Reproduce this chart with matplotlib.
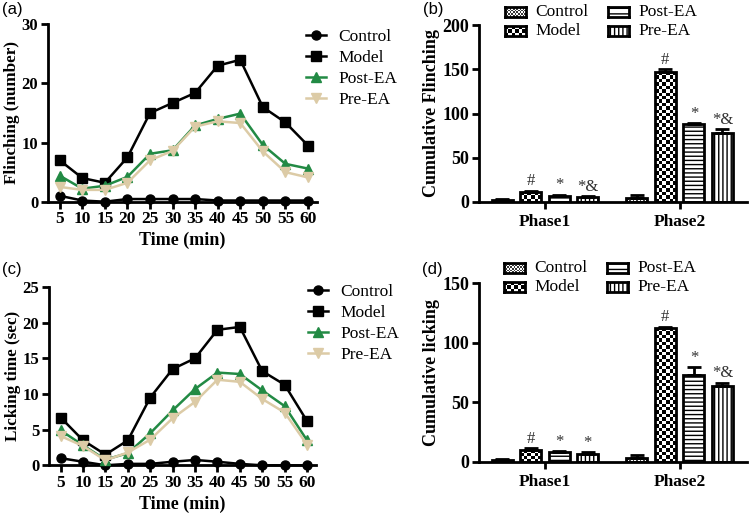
"""Formalin test: flinching and licking time courses plus cumulative phase bars."""

import numpy as np
import matplotlib
matplotlib.use('Agg')
import matplotlib.pyplot as plt
from matplotlib.colors import ListedColormap
from matplotlib.patches import Rectangle

FIG_W, FIG_H = 750, 516

groups = ['Control', 'Model', 'Post-EA', 'Pre-EA']
time_min = [5, 10, 15, 20, 25, 30, 35, 40, 45, 50, 55, 60]

flinch_control = [1.0, 0.2, 0.0, 0.45, 0.45, 0.45, 0.45, 0.2, 0.2, 0.2, 0.2, 0.2]
flinch_model = [7.0, 4.0, 3.2, 7.5, 15.0, 16.7, 18.4, 23.0, 24.0, 16.0, 13.4, 9.5]
flinch_post = [4.4, 2.2, 2.7, 4.2, 8.1, 8.7, 12.9, 14.0, 14.9, 9.6, 6.4, 5.6]
flinch_pre = [2.5, 2.0, 2.0, 3.2, 7.0, 8.6, 12.7, 13.6, 13.3, 8.5, 5.0, 4.1]

lick_control = [1.0, 0.5, 0.0, 0.2, 0.2, 0.5, 0.75, 0.5, 0.2, 0.0, 0.0, 0.0]
lick_model = [6.7, 3.5, 1.5, 3.5, 9.5, 13.5, 15.0, 19.0, 19.4, 13.2, 11.3, 6.2]
lick_post = [4.9, 2.8, 0.8, 1.7, 4.5, 7.7, 10.7, 13.0, 12.8, 10.5, 8.3, 3.5]
lick_pre = [4.1, 2.7, 0.7, 1.8, 3.6, 6.6, 8.9, 12.0, 11.7, 9.3, 7.4, 2.9]

phases = ['Phase1', 'Phase2']
# rows = phase, columns = group (Control, Model, Post-EA, Pre-EA)
cum_flinch = [[2, 11, 7, 5], [4, 147, 88, 78]]
cum_flinch_err = [[0.5, 1.5, 1, 1], [3.5, 3, 1, 4]]
cum_flinch_marks = [['', '#', '*', '*&'], ['', '#', '*', '*&']]
cum_lick = [[2, 10, 8, 7], [3, 112, 73, 63.5]]
cum_lick_err = [[0.5, 1.5, 1, 1], [3, 1.5, 6.5, 3]]
cum_lick_marks = [['', '#', '*', '*'], ['', '#', '*', '*&']]

line_styles = {
    'Control': dict(color='black', marker='o'),
    'Model': dict(color='black', marker='s'),
    'Post-EA': dict(color='#228a44', marker='^'),
    'Pre-EA': dict(color='#dccba6', marker='v'),
}

SERIF = 'Liberation Serif'
SANS = 'Liberation Sans'


def px_axes(fig, left, top, right, bottom):
    """Add axes from pixel coordinates (origin at top-left)."""
    return fig.add_axes([left / FIG_W, 1 - bottom / FIG_H,
                         (right - left) / FIG_W, (bottom - top) / FIG_H])


def style_axes(ax, labelsize=12.5):
    for side in ('top', 'right'):
        ax.spines[side].set_visible(False)
    for side in ('left', 'bottom'):
        ax.spines[side].set_linewidth(2)
    ax.tick_params(width=2, length=5, labelsize=labelsize, pad=2)
    for lab in ax.get_xticklabels() + ax.get_yticklabels():
        lab.set_fontfamily(SERIF)
        lab.set_fontweight('bold')


def plot_time_course(ax, series, ylim, yticks, ylabel, legend_xy):
    for name, vals in zip(groups, series):
        st = line_styles[name]
        ax.plot(time_min, vals, color=st['color'], marker=st['marker'],
                markersize=6.5, linewidth=1.8, label=name, clip_on=False, zorder=3)
    ax.set_xlim(2.4, 62)
    ax.set_ylim(*ylim)
    ax.set_xticks(time_min)
    ax.set_yticks(yticks)
    style_axes(ax)
    ax.tick_params(axis='y', labelsize=12)
    ax.set_xlabel('Time (min)', fontfamily=SERIF, fontweight='bold', fontsize=13, labelpad=3)
    ax.set_ylabel(ylabel, fontfamily=SERIF, fontweight='bold', fontsize=12.3, labelpad=1)
    ax.legend(loc='upper left', bbox_to_anchor=(legend_xy[0] / FIG_W, 1 - legend_xy[1] / FIG_H),
              bbox_transform=ax.figure.transFigure, frameon=False, borderaxespad=0,
              borderpad=0, handlelength=1.15, handletextpad=0.7, labelspacing=0.28,
              prop={'family': SERIF, 'size': 12.5})


def checker(nrow, ncol):
    return np.add.outer(np.arange(nrow), np.arange(ncol)) % 2


CHECK_COARSE = ListedColormap(['black', 'white'])
CHECK_FINE = ListedColormap(['#3a3a3a', 'white'])


def fill_checker(ax, patch, cell_px, cmap, px_x, px_y):
    x0, y0 = patch.get_x(), patch.get_y()
    w, h = patch.get_width(), patch.get_height()
    ncol = max(1, int(round(w * px_x / cell_px)))
    nrow = max(1, int(round(h * px_y / cell_px)))
    im = ax.imshow(checker(nrow, ncol), extent=[x0, x0 + w, y0, y0 + h], origin='lower',
                   cmap=cmap, interpolation='nearest', aspect='auto', zorder=1.5)
    im.set_clip_path(patch)


def plot_cumulative(ax, box_px, means, errs, marks, ylim, yticks, ylabel, mark_pad):
    xlim = (-0.49, 1.5)
    px_x = (box_px[2] - box_px[0]) / (xlim[1] - xlim[0])
    px_y = (box_px[3] - box_px[1]) / (ylim[1] - ylim[0])
    offsets = np.array([-1.5, -0.5, 0.5, 1.5]) * 0.212
    width = 0.156
    hatches = [None, None, '----', '||||']
    centers = np.arange(len(phases))
    for gi, name in enumerate(groups):
        xs = centers + offsets[gi]
        vals = [means[p][gi] for p in range(len(phases))]
        ers = [errs[p][gi] for p in range(len(phases))]
        face = 'none' if gi < 2 else 'white'
        bars = ax.bar(xs, vals, width, facecolor=face, edgecolor='black', linewidth=2,
                      hatch=hatches[gi], zorder=2)
        if gi == 0:
            for b in bars:
                fill_checker(ax, b, 1.6, CHECK_FINE, px_x, px_y)
        elif gi == 1:
            for b in bars:
                fill_checker(ax, b, 3.4, CHECK_COARSE, px_x, px_y)
        ax.errorbar(xs, vals, yerr=[np.zeros(len(vals)), ers], fmt='none', ecolor='black',
                    elinewidth=2, capsize=5, capthick=2, zorder=3)
        for p in range(len(phases)):
            if marks[p][gi]:
                ax.text(xs[p], vals[p] + ers[p] + mark_pad, marks[p][gi], ha='center',
                        va='bottom', fontfamily=SERIF, fontsize=12, color='#333333')
    ax.set_xlim(*xlim)
    ax.set_ylim(*ylim)
    ax.set_xticks(centers)
    ax.set_xticklabels(phases)
    ax.set_yticks(yticks)
    style_axes(ax, labelsize=13)
    ax.tick_params(axis='x', labelsize=12.5, pad=4)
    ax.set_ylabel(ylabel, fontfamily=SERIF, fontweight='bold', fontsize=13, labelpad=2)


def bar_legend(fig, left, top):
    """Two-column legend of pattern swatches drawn above a bar panel (pixel coords)."""
    sw_w, sw_h = 21, 10
    cells = [(0, 0), (1, 0), (0, 1), (1, 1)]  # (row, col) for each group
    for gi, name in enumerate(groups):
        row, col = cells[gi]
        x = left + col * 103
        y = top + row * 19
        sax = px_axes(fig, x, y, x + sw_w, y + sw_h)
        sax.set_xticks([])
        sax.set_yticks([])
        for sp in sax.spines.values():
            sp.set_linewidth(2)
        if gi == 0:
            sax.imshow(checker(6, 13), cmap=CHECK_FINE, interpolation='nearest', aspect='auto')
        elif gi == 1:
            sax.imshow(checker(3, 6), cmap=CHECK_COARSE, interpolation='nearest', aspect='auto')
        else:
            sax.add_patch(Rectangle((0, 0), 1, 1, transform=sax.transAxes, facecolor='white',
                                    edgecolor='black', linewidth=0,
                                    hatch='---' if gi == 2 else '||||'))
        fig.text((x + sw_w + 9) / FIG_W, 1 - (y + sw_h / 2) / FIG_H, name, ha='left',
                 va='center', fontfamily=SERIF, fontsize=12.5)


fig = plt.figure(figsize=(FIG_W / 100, FIG_H / 100), dpi=100)

box_a = (48, 24.3, 317, 201.7)
ax_a = px_axes(fig, *box_a)
plot_time_course(ax_a, [flinch_control, flinch_model, flinch_post, flinch_pre],
                 (0, 30), [0, 10, 20, 30], 'Flinching (number)', (306, 29))

box_c = (49, 287, 316, 465.3)
ax_c = px_axes(fig, *box_c)
plot_time_course(ax_c, [lick_control, lick_model, lick_post, lick_pre],
                 (0, 25), [0, 5, 10, 15, 20, 25], 'Licking time (sec)', (308, 284))

box_b = (479, 25.3, 747, 201.7)
ax_b = px_axes(fig, *box_b)
plot_cumulative(ax_b, box_b, cum_flinch, cum_flinch_err, cum_flinch_marks,
                (0, 200), [0, 50, 100, 150, 200], 'Cumulative Flinching', 1.5)
bar_legend(fig, 505, 7)

box_d = (479, 283, 747, 462)
ax_d = px_axes(fig, *box_d)
plot_cumulative(ax_d, box_d, cum_lick, cum_lick_err, cum_lick_marks,
                (0, 150), [0, 50, 100, 150], 'Cumulative licking', 1.2)
bar_legend(fig, 504, 263)

for lab, (px, py) in zip(['(a)', '(b)', '(c)', '(d)'], [(2, 2), (423, 2), (2, 262), (422, 262)]):
    fig.text(px / FIG_W, 1 - py / FIG_H, lab, ha='left', va='top', fontfamily=SANS, fontsize=12)

fig.savefig('out.png', dpi=100)
